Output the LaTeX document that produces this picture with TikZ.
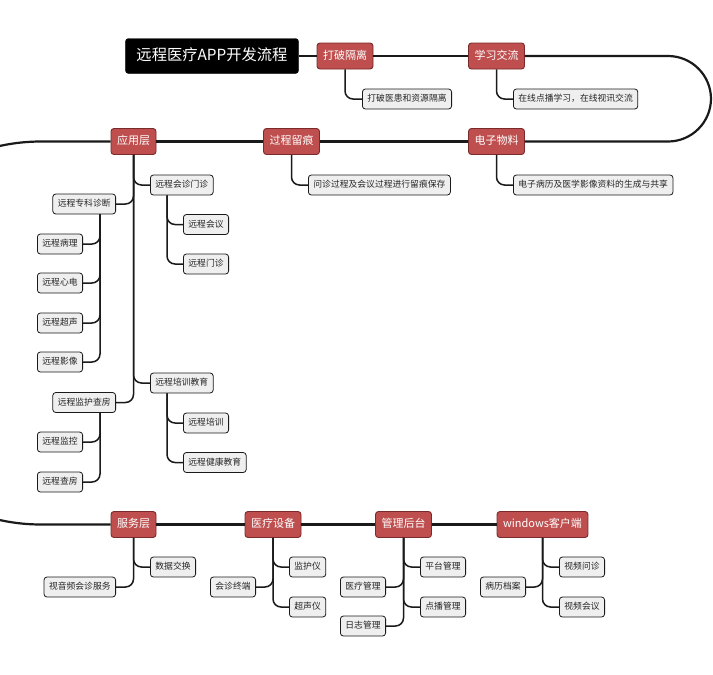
\documentclass[tikz,border=0pt]{standalone}
\usepackage{fontspec}
\setmainfont{Noto Sans CJK SC}
\usetikzlibrary{calc}
\definecolor{topicred}{HTML}{BF4F4F}
\definecolor{topicedge}{HTML}{7A2A2A}
\definecolor{leaffill}{HTML}{EFEFEF}
\definecolor{linecol}{HTML}{1A1A1A}
\tikzset{
  titlebox/.style={fill=black, draw=black, text=white, rounded corners=3pt, minimum height=35pt, inner xsep=11pt, inner ysep=0pt, font=\fontsize{15.3}{15.3}\selectfont, text height=11pt, text depth=3pt},
  topic/.style={fill=topicred, draw=topicedge, line width=0.9pt, text=white, rounded corners=3pt, minimum height=26pt, inner xsep=6pt, inner ysep=0pt, font=\fontsize{11}{11}\selectfont, text height=8.5pt, text depth=2.5pt},
  leaf/.style={fill=leaffill, draw=linecol, line width=0.8pt, text=black!85, rounded corners=3pt, minimum height=20pt, inner xsep=5pt, inner ysep=0pt, font=\fontsize{8.8}{8.8}\selectfont, text height=7pt, text depth=2pt},
  mainline/.style={draw=linecol, line width=2.2pt},
  branch/.style={draw=linecol, line width=1.5pt, rounded corners=8pt},
}
\begin{document}
\begin{tikzpicture}[x=1pt,y=-1pt]
\useasboundingbox (0,0) rectangle (713,675);
\clip (0,0) rectangle (713,675);
\fill[white] (0,0) rectangle (713,675);

% main topics
\node[titlebox] (title) at (212,56) {远程医疗APP开发流程};
\node[topic] (p1) at (345,56) {打破隔离};
\node[topic] (p2) at (496.5,56) {学习交流};
\node[topic] (p3) at (496.5,141.5) {电子物料};
\node[topic] (p4) at (291.5,141.5) {过程留痕};
\node[topic] (p5) at (133.5,141.5) {应用层};
\node[topic] (p6) at (133.5,524.5) {服务层};
\node[topic] (p7) at (273,524.5) {医疗设备};
\node[topic] (p8) at (403.5,524.5) {管理后台};
\node[topic] (p9) at (542.5,524.5) {windows客户端};

% right-side leaves
\node[leaf, anchor=west] (c1) at (362,99) {打破医患和资源隔离};
\node[leaf, anchor=west] (c2) at (513,99) {在线点播学习，在线视讯交流};
\node[leaf, anchor=west] (c3) at (308,185) {问诊过程及会议过程进行留痕保存};
\node[leaf, anchor=west] (c4) at (513,185) {电子病历及医学影像资料的生成与共享};
\node[leaf, anchor=west] (a1) at (150,185) {远程会诊门诊};
\node[leaf, anchor=west] (a11) at (183,224.5) {远程会议};
\node[leaf, anchor=west] (a12) at (183,264) {远程门诊};
\node[leaf, anchor=west] (a3) at (150,383) {远程培训教育};
\node[leaf, anchor=west] (a31) at (183,423) {远程培训};
\node[leaf, anchor=west] (a32) at (183,462.5) {远程健康教育};
\node[leaf, anchor=west] (s1) at (150,567) {数据交换};
\node[leaf, anchor=west] (m1) at (289,567) {监护仪};
\node[leaf, anchor=west] (m3) at (289,607) {超声仪};
\node[leaf, anchor=west] (g1) at (420,567) {平台管理};
\node[leaf, anchor=west] (g3) at (420,607) {点播管理};
\node[leaf, anchor=west] (w1) at (559,567) {视频问诊};
\node[leaf, anchor=west] (w3) at (559,607) {视频会议};

% left-side leaves
\node[leaf, anchor=east] (a2) at (116,204) {远程专科诊断};
\node[leaf, anchor=east] (a21) at (83,244) {远程病理};
\node[leaf, anchor=east] (a22) at (83,283) {远程心电};
\node[leaf, anchor=east] (a23) at (83,323) {远程超声};
\node[leaf, anchor=east] (a24) at (83,362) {远程影像};
\node[leaf, anchor=east] (a4) at (116,402.5) {远程监护查房};
\node[leaf, anchor=east] (a41) at (83,442) {远程监控};
\node[leaf, anchor=east] (a42) at (83,482) {远程查房};
\node[leaf, anchor=east] (s2) at (116,587) {视音频会诊服务};
\node[leaf, anchor=east] (m2) at (256,587) {会诊终端};
\node[leaf, anchor=east] (g2) at (386,587) {医疗管理};
\node[leaf, anchor=east] (g4) at (386,626) {日志管理};
\node[leaf, anchor=east] (w2) at (526,587) {病历档案};

% main line
\draw[mainline] (title.east) -- (p1.west);
\draw[mainline] (p1.east) -- (p2.west);
\draw[mainline, rounded corners=43pt] (p2.east) -- (711,56) -- (711,141.5) -- (p3.east);
\draw[mainline] (p3.west) -- (p4.east);
\draw[mainline] (p4.west) -- (p5.east);
\draw[mainline, rounded corners=191pt] (p5.west) -- (-150,141.5) -- (-150,524.5) -- (p6.west);
\draw[mainline] (p6.east) -- (p7.west);
\draw[mainline] (p7.east) -- (p8.west);
\draw[mainline] (p8.east) -- (p9.west);

% branches
\draw[branch] (p1.south) |- (c1.west);
\draw[branch] (p2.south) |- (c2.west);
\draw[branch] (p4.south) |- (c3.west);
\draw[branch] (p3.south) |- (c4.west);

\draw[branch] (p5.south) |- (a1.west);
\draw[branch] (p5.south) |- (a2.east);
\draw[branch] (p5.south) |- (a3.west);
\draw[branch] (p5.south) |- (a4.east);

\draw[branch] ($(a1.south west)+(17,0)$) |- (a11.west);
\draw[branch] ($(a1.south west)+(17,0)$) |- (a12.west);
\draw[branch] ($(a3.south west)+(17,0)$) |- (a31.west);
\draw[branch] ($(a3.south west)+(17,0)$) |- (a32.west);

\draw[branch] ($(a2.south east)+(-16,0)$) |- (a21.east);
\draw[branch] ($(a2.south east)+(-16,0)$) |- (a22.east);
\draw[branch] ($(a2.south east)+(-16,0)$) |- (a23.east);
\draw[branch] ($(a2.south east)+(-16,0)$) |- (a24.east);
\draw[branch] ($(a4.south east)+(-16,0)$) |- (a41.east);
\draw[branch] ($(a4.south east)+(-16,0)$) |- (a42.east);

\draw[branch] (p6.south) |- (s1.west);
\draw[branch] (p6.south) |- (s2.east);
\draw[branch] (p7.south) |- (m1.west);
\draw[branch] (p7.south) |- (m2.east);
\draw[branch] (p7.south) |- (m3.west);
\draw[branch] (p8.south) |- (g1.west);
\draw[branch] (p8.south) |- (g2.east);
\draw[branch] (p8.south) |- (g3.west);
\draw[branch] (p8.south) |- (g4.east);
\draw[branch] (p9.south) |- (w1.west);
\draw[branch] (p9.south) |- (w2.east);
\draw[branch] (p9.south) |- (w3.west);
\end{tikzpicture}
\end{document}
